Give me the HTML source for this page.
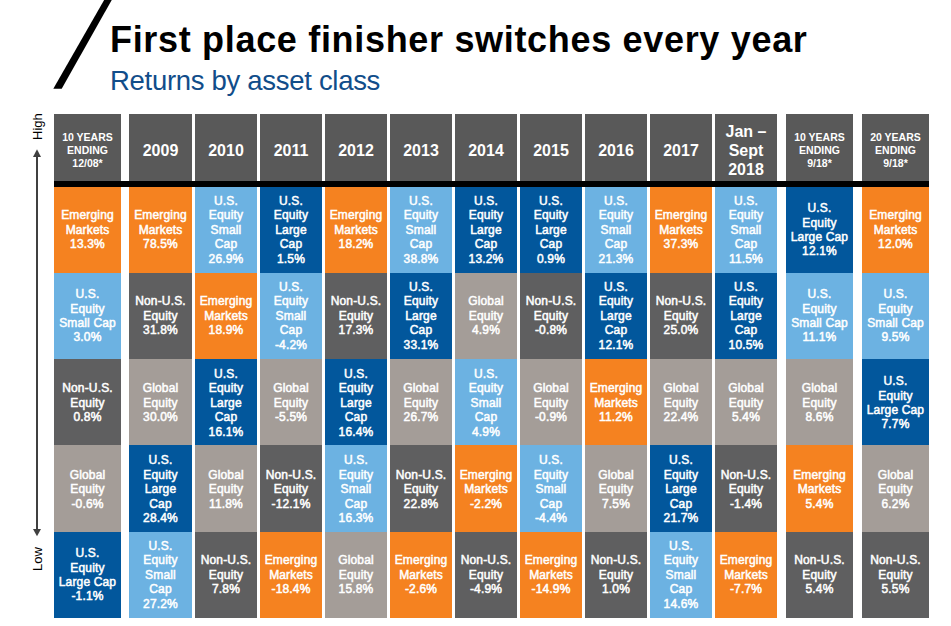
<!DOCTYPE html>
<html><head><meta charset="utf-8"><style>
html,body{margin:0;padding:0;background:#fff;width:951px;height:626px;overflow:hidden;position:relative;font-family:"Liberation Sans",sans-serif;}
.slash{position:absolute;left:0;top:0;}
.title{position:absolute;left:110px;top:18px;font-size:36px;font-weight:bold;color:#000;white-space:nowrap;line-height:44px;letter-spacing:0.68px;}
.sub{position:absolute;left:110px;top:66px;font-size:27.5px;letter-spacing:-0.3px;color:#114d8a;white-space:nowrap;line-height:30px;}
.high,.low{position:absolute;font-size:13px;color:#000;transform:rotate(-90deg);transform-origin:0 0;white-space:nowrap;line-height:15px;}
.high{left:30px;top:139.5px;}
.low{left:30px;top:571px;}
.arrow{position:absolute;}
.hd{position:absolute;top:114px;height:73px;background:#595959;color:#fff;font-weight:bold;display:flex;align-items:center;justify-content:center;text-align:center;font-size:16px;line-height:18.8px;padding-top:2px;box-sizing:border-box;}
.hd .sm{font-size:10.5px;line-height:12.8px;position:relative;top:-1px;}
.bar{position:absolute;left:54px;top:181px;width:875px;height:6px;background:#000;}
.c{position:absolute;display:flex;align-items:center;justify-content:center;text-align:center;color:#fff;font-weight:normal;-webkit-text-stroke:0.5px #fff;letter-spacing:0.15px;font-size:12px;line-height:14.4px;}
.o{background:#f58220;}
.l{background:#6cb2e2;}
.d{background:#02579c;}
.n{background:#5f5f60;}
.g{background:#a49d98;}

</style></head><body>
<svg class="slash" width="951" height="100" viewBox="0 0 951 100"><polygon points="53.3,88.8 61.7,88.8 112.3,-1 104.7,-1" fill="#000"/></svg>
<div class="title">First place finisher switches every year</div>
<div class="sub">Returns by asset class</div>
<div class="high">High</div><div class="low">Low</div>
<svg class="arrow" width="20" height="400" viewBox="0 0 20 400" style="left:27px;top:140px"><line x1="10" y1="15" x2="10" y2="390" stroke="#404040" stroke-width="2"/><polygon points="6,17 14,17 10,9.3" fill="#404040"/><polygon points="6,389 14,389 10,396.3" fill="#404040"/></svg>
<div class="hd" style="left:54px;width:67px"><span class="sm">10 YEARS<br>ENDING<br>12/08*</span></div>
<div class="hd" style="left:129px;width:63px">2009</div>
<div class="hd" style="left:195px;width:62px">2010</div>
<div class="hd" style="left:260px;width:62px">2011</div>
<div class="hd" style="left:325px;width:62px">2012</div>
<div class="hd" style="left:390px;width:62px">2013</div>
<div class="hd" style="left:455px;width:62px">2014</div>
<div class="hd" style="left:520px;width:62px">2015</div>
<div class="hd" style="left:585px;width:62px">2016</div>
<div class="hd" style="left:650px;width:62px">2017</div>
<div class="hd" style="left:715px;width:62px"><span class="jan">Jan –<br>Sept<br>2018</span></div>
<div class="hd" style="left:786px;width:67px"><span class="sm">10 YEARS<br>ENDING<br>9/18*</span></div>
<div class="hd" style="left:862px;width:67px"><span class="sm">20 YEARS<br>ENDING<br>9/18*</span></div>
<div class="bar"></div>
<div class="c o" style="left:54px;top:187px;width:67px;height:86px"><span>Emerging<br>Markets<br>13.3%</span></div>
<div class="c o" style="left:129px;top:187px;width:63px;height:86px"><span>Emerging<br>Markets<br>78.5%</span></div>
<div class="c l" style="left:195px;top:187px;width:62px;height:86px"><span>U.S.<br>Equity<br>Small<br>Cap<br>26.9%</span></div>
<div class="c d" style="left:260px;top:187px;width:62px;height:86px"><span>U.S.<br>Equity<br>Large<br>Cap<br>1.5%</span></div>
<div class="c o" style="left:325px;top:187px;width:62px;height:86px"><span>Emerging<br>Markets<br>18.2%</span></div>
<div class="c l" style="left:390px;top:187px;width:62px;height:86px"><span>U.S.<br>Equity<br>Small<br>Cap<br>38.8%</span></div>
<div class="c d" style="left:455px;top:187px;width:62px;height:86px"><span>U.S.<br>Equity<br>Large<br>Cap<br>13.2%</span></div>
<div class="c d" style="left:520px;top:187px;width:62px;height:86px"><span>U.S.<br>Equity<br>Large<br>Cap<br>0.9%</span></div>
<div class="c l" style="left:585px;top:187px;width:62px;height:86px"><span>U.S.<br>Equity<br>Small<br>Cap<br>21.3%</span></div>
<div class="c o" style="left:650px;top:187px;width:62px;height:86px"><span>Emerging<br>Markets<br>37.3%</span></div>
<div class="c l" style="left:715px;top:187px;width:62px;height:86px"><span>U.S.<br>Equity<br>Small<br>Cap<br>11.5%</span></div>
<div class="c d" style="left:786px;top:187px;width:67px;height:86px"><span>U.S.<br>Equity<br>Large Cap<br>12.1%</span></div>
<div class="c o" style="left:862px;top:187px;width:67px;height:86px"><span>Emerging<br>Markets<br>12.0%</span></div>
<div class="c l" style="left:54px;top:273px;width:67px;height:86px"><span>U.S.<br>Equity<br>Small Cap<br>3.0%</span></div>
<div class="c n" style="left:129px;top:273px;width:63px;height:86px"><span>Non-U.S.<br>Equity<br>31.8%</span></div>
<div class="c o" style="left:195px;top:273px;width:62px;height:86px"><span>Emerging<br>Markets<br>18.9%</span></div>
<div class="c l" style="left:260px;top:273px;width:62px;height:86px"><span>U.S.<br>Equity<br>Small<br>Cap<br>-4.2%</span></div>
<div class="c n" style="left:325px;top:273px;width:62px;height:86px"><span>Non-U.S.<br>Equity<br>17.3%</span></div>
<div class="c d" style="left:390px;top:273px;width:62px;height:86px"><span>U.S.<br>Equity<br>Large<br>Cap<br>33.1%</span></div>
<div class="c g" style="left:455px;top:273px;width:62px;height:86px"><span>Global<br>Equity<br>4.9%</span></div>
<div class="c n" style="left:520px;top:273px;width:62px;height:86px"><span>Non-U.S.<br>Equity<br>-0.8%</span></div>
<div class="c d" style="left:585px;top:273px;width:62px;height:86px"><span>U.S.<br>Equity<br>Large<br>Cap<br>12.1%</span></div>
<div class="c n" style="left:650px;top:273px;width:62px;height:86px"><span>Non-U.S.<br>Equity<br>25.0%</span></div>
<div class="c d" style="left:715px;top:273px;width:62px;height:86px"><span>U.S.<br>Equity<br>Large<br>Cap<br>10.5%</span></div>
<div class="c l" style="left:786px;top:273px;width:67px;height:86px"><span>U.S.<br>Equity<br>Small Cap<br>11.1%</span></div>
<div class="c l" style="left:862px;top:273px;width:67px;height:86px"><span>U.S.<br>Equity<br>Small Cap<br>9.5%</span></div>
<div class="c n" style="left:54px;top:359px;width:67px;height:86px;padding-top:2px;box-sizing:border-box"><span>Non-U.S.<br>Equity<br>0.8%</span></div>
<div class="c g" style="left:129px;top:359px;width:63px;height:86px;padding-top:2px;box-sizing:border-box"><span>Global<br>Equity<br>30.0%</span></div>
<div class="c d" style="left:195px;top:359px;width:62px;height:86px;padding-top:2px;box-sizing:border-box"><span>U.S.<br>Equity<br>Large<br>Cap<br>16.1%</span></div>
<div class="c g" style="left:260px;top:359px;width:62px;height:86px;padding-top:2px;box-sizing:border-box"><span>Global<br>Equity<br>-5.5%</span></div>
<div class="c d" style="left:325px;top:359px;width:62px;height:86px;padding-top:2px;box-sizing:border-box"><span>U.S.<br>Equity<br>Large<br>Cap<br>16.4%</span></div>
<div class="c g" style="left:390px;top:359px;width:62px;height:86px;padding-top:2px;box-sizing:border-box"><span>Global<br>Equity<br>26.7%</span></div>
<div class="c l" style="left:455px;top:359px;width:62px;height:86px;padding-top:2px;box-sizing:border-box"><span>U.S.<br>Equity<br>Small<br>Cap<br>4.9%</span></div>
<div class="c g" style="left:520px;top:359px;width:62px;height:86px;padding-top:2px;box-sizing:border-box"><span>Global<br>Equity<br>-0.9%</span></div>
<div class="c o" style="left:585px;top:359px;width:62px;height:86px;padding-top:2px;box-sizing:border-box"><span>Emerging<br>Markets<br>11.2%</span></div>
<div class="c g" style="left:650px;top:359px;width:62px;height:86px;padding-top:2px;box-sizing:border-box"><span>Global<br>Equity<br>22.4%</span></div>
<div class="c g" style="left:715px;top:359px;width:62px;height:86px;padding-top:2px;box-sizing:border-box"><span>Global<br>Equity<br>5.4%</span></div>
<div class="c g" style="left:786px;top:359px;width:67px;height:86px;padding-top:2px;box-sizing:border-box"><span>Global<br>Equity<br>8.6%</span></div>
<div class="c d" style="left:862px;top:359px;width:67px;height:86px;padding-top:2px;box-sizing:border-box"><span>U.S.<br>Equity<br>Large Cap<br>7.7%</span></div>
<div class="c g" style="left:54px;top:445px;width:67px;height:87px;padding-top:2px;box-sizing:border-box"><span>Global<br>Equity<br>-0.6%</span></div>
<div class="c d" style="left:129px;top:445px;width:63px;height:87px;padding-top:2px;box-sizing:border-box"><span>U.S.<br>Equity<br>Large<br>Cap<br>28.4%</span></div>
<div class="c g" style="left:195px;top:445px;width:62px;height:87px;padding-top:2px;box-sizing:border-box"><span>Global<br>Equity<br>11.8%</span></div>
<div class="c n" style="left:260px;top:445px;width:62px;height:87px;padding-top:2px;box-sizing:border-box"><span>Non-U.S.<br>Equity<br>-12.1%</span></div>
<div class="c l" style="left:325px;top:445px;width:62px;height:87px;padding-top:2px;box-sizing:border-box"><span>U.S.<br>Equity<br>Small<br>Cap<br>16.3%</span></div>
<div class="c n" style="left:390px;top:445px;width:62px;height:87px;padding-top:2px;box-sizing:border-box"><span>Non-U.S.<br>Equity<br>22.8%</span></div>
<div class="c o" style="left:455px;top:445px;width:62px;height:87px;padding-top:2px;box-sizing:border-box"><span>Emerging<br>Markets<br>-2.2%</span></div>
<div class="c l" style="left:520px;top:445px;width:62px;height:87px;padding-top:2px;box-sizing:border-box"><span>U.S.<br>Equity<br>Small<br>Cap<br>-4.4%</span></div>
<div class="c g" style="left:585px;top:445px;width:62px;height:87px;padding-top:2px;box-sizing:border-box"><span>Global<br>Equity<br>7.5%</span></div>
<div class="c d" style="left:650px;top:445px;width:62px;height:87px;padding-top:2px;box-sizing:border-box"><span>U.S.<br>Equity<br>Large<br>Cap<br>21.7%</span></div>
<div class="c n" style="left:715px;top:445px;width:62px;height:87px;padding-top:2px;box-sizing:border-box"><span>Non-U.S.<br>Equity<br>-1.4%</span></div>
<div class="c o" style="left:786px;top:445px;width:67px;height:87px;padding-top:2px;box-sizing:border-box"><span>Emerging<br>Markets<br>5.4%</span></div>
<div class="c g" style="left:862px;top:445px;width:67px;height:87px;padding-top:2px;box-sizing:border-box"><span>Global<br>Equity<br>6.2%</span></div>
<div class="c d" style="left:54px;top:532px;width:67px;height:86px"><span>U.S.<br>Equity<br>Large Cap<br>-1.1%</span></div>
<div class="c l" style="left:129px;top:532px;width:63px;height:86px"><span>U.S.<br>Equity<br>Small<br>Cap<br>27.2%</span></div>
<div class="c n" style="left:195px;top:532px;width:62px;height:86px"><span>Non-U.S.<br>Equity<br>7.8%</span></div>
<div class="c o" style="left:260px;top:532px;width:62px;height:86px"><span>Emerging<br>Markets<br>-18.4%</span></div>
<div class="c g" style="left:325px;top:532px;width:62px;height:86px"><span>Global<br>Equity<br>15.8%</span></div>
<div class="c o" style="left:390px;top:532px;width:62px;height:86px"><span>Emerging<br>Markets<br>-2.6%</span></div>
<div class="c n" style="left:455px;top:532px;width:62px;height:86px"><span>Non-U.S.<br>Equity<br>-4.9%</span></div>
<div class="c o" style="left:520px;top:532px;width:62px;height:86px"><span>Emerging<br>Markets<br>-14.9%</span></div>
<div class="c n" style="left:585px;top:532px;width:62px;height:86px"><span>Non-U.S.<br>Equity<br>1.0%</span></div>
<div class="c l" style="left:650px;top:532px;width:62px;height:86px"><span>U.S.<br>Equity<br>Small<br>Cap<br>14.6%</span></div>
<div class="c o" style="left:715px;top:532px;width:62px;height:86px"><span>Emerging<br>Markets<br>-7.7%</span></div>
<div class="c n" style="left:786px;top:532px;width:67px;height:86px"><span>Non-U.S.<br>Equity<br>5.4%</span></div>
<div class="c n" style="left:862px;top:532px;width:67px;height:86px"><span>Non-U.S.<br>Equity<br>5.5%</span></div>
</body></html>
